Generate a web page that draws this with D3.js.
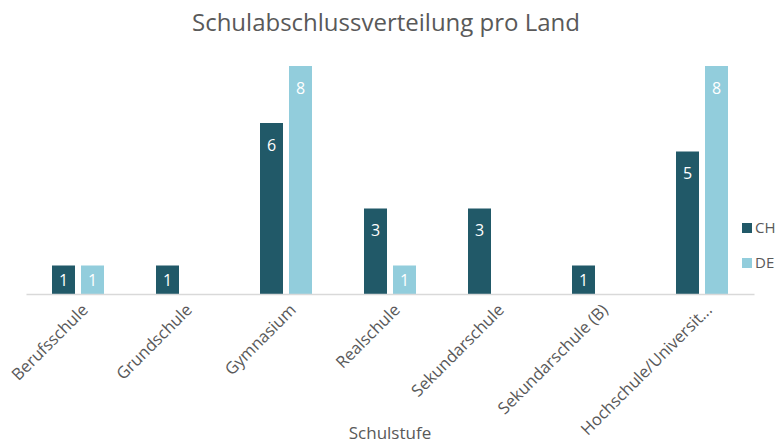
<!DOCTYPE html>
<html>
<head>
<meta charset="utf-8">
<script src="https://cdn.jsdelivr.net/npm/d3@7"></script>
<style>
  html, body { margin: 0; padding: 0; background: #ffffff; }
  #chart { width: 780px; height: 445px; }
</style>
</head>
<body>
<div id="chart"></div>
<script>
// Schulabschlussverteilung pro Land
const kategorien = [
  "Berufsschule",
  "Grundschule",
  "Gymnasium",
  "Realschule",
  "Sekundarschule",
  "Sekundarschule (B)",
  "Hochschule/Universit...",
];
const serien = ["CH", "DE"];
const werteCH = [1, 1, 6, 3, 3, 1, 5];
const werteDE = [1, 0, 8, 1, 0, 0, 8];

const farben = { CH: "#215968", DE: "#92CDDC" };
const schrift = "'Open Sans', 'Noto Sans', sans-serif";
const grau = "#595959";

const width = 780;
const height = 445;
const baseY = 294;

const daten = kategorien.map((k, i) => ({
  kategorie: k,
  werte: [
    { serie: "CH", wert: werteCH[i] },
    { serie: "DE", wert: werteDE[i] },
  ],
}));

const svg = d3
  .select("#chart")
  .append("svg")
  .attr("width", width)
  .attr("height", height)
  .attr("viewBox", `0 0 ${width} ${height}`);

const x0 = d3.scaleBand().domain(kategorien).range([26, 754]);

const x1 = d3
  .scaleBand()
  .domain(serien)
  .range([26, 78])
  .paddingInner(6 / 29)
  .paddingOuter(0);

const y = d3.scaleLinear().domain([0, 8]).range([baseY, 66]);

// titel
svg
  .append("text")
  .attr("x", 386)
  .attr("y", 31)
  .attr("text-anchor", "middle")
  .attr("fill", grau)
  .attr("font-family", schrift)
  .attr("font-size", 24)
  .text("Schulabschlussverteilung pro Land");

const gruppen = svg
  .append("g")
  .selectAll("g")
  .data(daten)
  .join("g")
  .attr("transform", (d) => `translate(${x0(d.kategorie)},0)`);

const balken = gruppen
  .selectAll("g")
  .data((d) => d.werte.filter((w) => w.wert > 0))
  .join("g");

balken
  .append("rect")
  .attr("x", (d) => x1(d.serie))
  .attr("y", (d) => y(d.wert))
  .attr("width", x1.bandwidth())
  .attr("height", (d) => baseY - y(d.wert))
  .attr("fill", (d) => farben[d.serie]);

// datenbeschriftungen
balken
  .append("text")
  .attr("x", (d) => x1(d.serie) + x1.bandwidth() / 2)
  .attr("y", (d) => Math.min(y(d.wert) + 22, (y(d.wert) + baseY) / 2))
  .attr("dy", "0.36em")
  .attr("text-anchor", "middle")
  .attr("fill", "#ffffff")
  .attr("font-family", schrift)
  .attr("font-size", 16)
  .text((d) => d.wert);

// x-achse
const xAchse = svg
  .append("g")
  .attr("transform", `translate(0,${baseY})`)
  .call(d3.axisBottom(x0).tickSize(0).tickPadding(0));

xAchse.select(".domain").attr("stroke", "#d9d9d9").attr("stroke-width", 1.5);

xAchse
  .selectAll(".tick text")
  .attr("fill", grau)
  .attr("font-family", schrift)
  .attr("font-size", 16.5)
  .attr("text-anchor", "end")
  .attr("x", 0)
  .attr("y", 0)
  .attr("dy", 0)
  .attr("transform", "translate(11,17) rotate(-45)");

svg
  .append("text")
  .attr("x", 390)
  .attr("y", 439)
  .attr("text-anchor", "middle")
  .attr("fill", grau)
  .attr("font-family", schrift)
  .attr("font-size", 17)
  .text("Schulstufe");

// legende
const legende = svg
  .append("g")
  .selectAll("g")
  .data(serien)
  .join("g")
  .attr("transform", (d, i) => `translate(742,${223 + i * 35})`);

legende
  .append("rect")
  .attr("width", 10)
  .attr("height", 10)
  .attr("fill", (d) => farben[d]);

legende
  .append("text")
  .attr("x", 13)
  .attr("y", 5)
  .attr("dy", "0.36em")
  .attr("fill", grau)
  .attr("font-family", schrift)
  .attr("font-size", 15)
  .text((d) => d);
</script>
</body>
</html>
